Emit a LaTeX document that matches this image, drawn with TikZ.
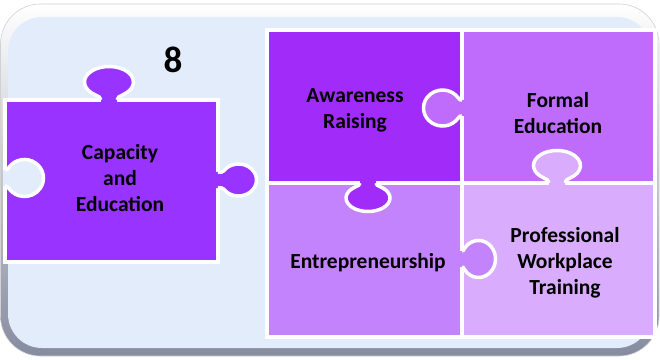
\documentclass[tikz,border=0pt]{standalone}
\usepackage{fontspec}
\setmainfont{Carlito}
\definecolor{bgblue}{HTML}{E3ECFB}
\definecolor{framegray}{HTML}{868CA0}
\definecolor{capcol}{HTML}{9933FF}
\definecolor{awcol}{HTML}{A12BF8}
\definecolor{fecol}{HTML}{BF6BFC}
\definecolor{encol}{HTML}{C383FC}
\definecolor{prcol}{HTML}{DAACFD}
\tikzset{
  piece/.style={draw=white, line width=3.5},
  lbl/.style={font=\bfseries\fontsize{21.5}{26}\selectfont, align=center, text=black},
}
% #1 x, #2 y, #3 rotation, #4 colour, #5 half width along edge, #6 radius outward, #7 centre distance, #8 neck half width
\newcommand{\pzknob}[8]{%
  \begin{scope}[shift={(#1,#2)}, rotate=#3]
    \fill[#4] (-#8,-2) -- (-#8,0)
      .. controls (-#8,{0.5*(#7-0.819*#6)}) and ({-0.574*#5+0.123*#5},{#7-0.819*#6-0.086*#6}) .. ({-0.574*#5},{#7-0.819*#6})
      arc[start angle=235, end angle=-55, x radius=#5, y radius=#6]
      .. controls ({0.574*#5-0.123*#5},{#7-0.819*#6-0.086*#6}) and (#8,{0.5*(#7-0.819*#6)}) .. (#8,0)
      -- (#8,-2) -- cycle;
    \draw[white, line width=3.5] (-#8,0)
      .. controls (-#8,{0.5*(#7-0.819*#6)}) and ({-0.574*#5+0.123*#5},{#7-0.819*#6-0.086*#6}) .. ({-0.574*#5},{#7-0.819*#6})
      arc[start angle=235, end angle=-55, x radius=#5, y radius=#6]
      .. controls ({0.574*#5-0.123*#5},{#7-0.819*#6-0.086*#6}) and (#8,{0.5*(#7-0.819*#6)}) .. (#8,0);
  \end{scope}}
\begin{document}
\begin{tikzpicture}[x=1pt, y=1pt]
  \useasboundingbox (0,0) rectangle (660,359);
  % frame
  \shade[top color=white, bottom color=framegray, draw=black!18, line width=0.6, rounded corners=40]
    (0.5,3) rectangle (659,355);
  \fill[bgblue, rounded corners=34] (8,11) rectangle (651,342);
  % pieces
  \path[piece, fill=capcol] (5,97) rectangle (218,259);
  \path[piece, fill=awcol] (267,176) rectangle (462,329);
  \path[piece, fill=fecol] (462,176) rectangle (655,329);
  \path[piece, fill=encol] (267,22) rectangle (462,176);
  \path[piece, fill=prcol] (462,22) rectangle (655,176);
  % knobs
  \pzknob{109}{259}{0}{capcol}{24.5}{15.5}{18}{8}
  \pzknob{218}{179}{-90}{capcol}{16}{18}{20.5}{8}
  \pzknob{5}{181}{-90}{bgblue}{18.5}{19}{19.5}{8}
  \pzknob{462}{251}{90}{fecol}{18}{19}{19.5}{8}
  \pzknob{557}{176}{0}{prcol}{23.5}{15}{17.5}{8}
  \pzknob{368}{176}{180}{awcol}{22}{13.5}{15}{8}
  \pzknob{462}{100}{-90}{encol}{18.5}{17}{16.5}{8}
  % labels
  \node[font=\bfseries\fontsize{37}{40}\selectfont] (num) at (173,299) {8};
  \node[lbl] (cap) at (120,181) {Capacity\\and\\Education};
  \node[lbl] (aw) at (355,249) {Awareness\\Raising};
  \node[lbl] (fe) at (558,245.5) {Formal\\Education};
  \node[lbl] (en) at (368,96) {Entrepreneurship};
  \node[lbl] (pr) at (565,96) {Professional\\Workplace\\Training};
\end{tikzpicture}
\end{document}
